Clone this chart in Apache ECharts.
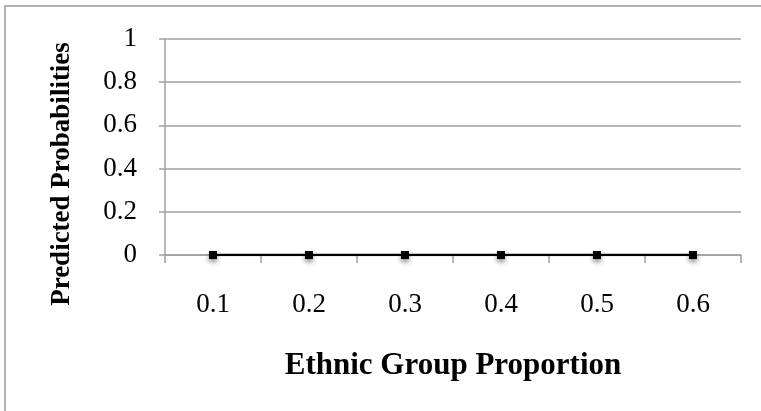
<!DOCTYPE html>
<html>
<head>
<meta charset="utf-8">
<script src="https://cdn.jsdelivr.net/npm/echarts@6/dist/echarts.min.js"></script>
<style>html,body{margin:0;padding:0;background:#fff}#c{width:761px;height:411px}</style>
</head>
<body>
<div id="c"></div>
<script>
var categories = ['0.1', '0.2', '0.3', '0.4', '0.5', '0.6'];
var predicted = [0, 0, 0, 0, 0, 0];
var yTicks = [0, 0.2, 0.4, 0.6, 0.8, 1];
var xName = 'Ethnic Group Proportion';
var yName = 'Predicted Probabilities';

var chart = echarts.init(document.getElementById('c'));
var serif = '"Liberation Serif", "DejaVu Serif", serif';
chart.setOption({
  animation: false,
  backgroundColor: '#fff',
  grid: { left: 165, right: 20, top: 39, bottom: 156, containLabel: false },
  xAxis: {
    type: 'category',
    data: categories,
    boundaryGap: true,
    axisLine: { lineStyle: { color: '#a0a0a0', width: 1.5 } },
    axisTick: { show: true, length: 8, lineStyle: { color: '#a0a0a0', width: 1.5 } },
    axisLabel: { color: '#000', fontFamily: serif, fontSize: 27, margin: 36 },
    splitLine: { show: false }
  },
  yAxis: {
    type: 'value',
    min: yTicks[0],
    max: yTicks[yTicks.length - 1],
    interval: 0.2,
    axisLine: { show: true, lineStyle: { color: '#a0a0a0', width: 1.5 } },
    axisTick: { show: true, length: 6, lineStyle: { color: '#a0a0a0', width: 1.5 } },
    axisLabel: { color: '#000', fontFamily: serif, fontSize: 27, margin: 28 },
    splitLine: { show: true, lineStyle: { color: '#a0a0a0', width: 1.5 } }
  },
  graphic: [
    { type: 'rect', shape: { x: 5, y: 6, width: 800, height: 420 },
      style: { fill: 'none', stroke: '#9a9a9a', lineWidth: 1.5 }, z: -1 },
    { type: 'text', x: 453, y: 366,
      style: { text: xName, font: 'bold 31px ' + serif, fill: '#000', align: 'center', verticalAlign: 'middle' } },
    { type: 'text', x: 62, y: 174, rotation: Math.PI / 2,
      style: { text: yName, font: 'bold 27px ' + serif, fill: '#000', align: 'center', verticalAlign: 'middle' } }
  ],
  series: [{
    type: 'line',
    data: predicted,
    symbol: 'rect',
    symbolSize: 8,
    lineStyle: { color: '#000', width: 2.5 },
    itemStyle: { color: '#000', shadowColor: 'rgba(0,0,0,0.45)', shadowBlur: 5, shadowOffsetY: 3 }
  }]
});
</script>
</body>
</html>
